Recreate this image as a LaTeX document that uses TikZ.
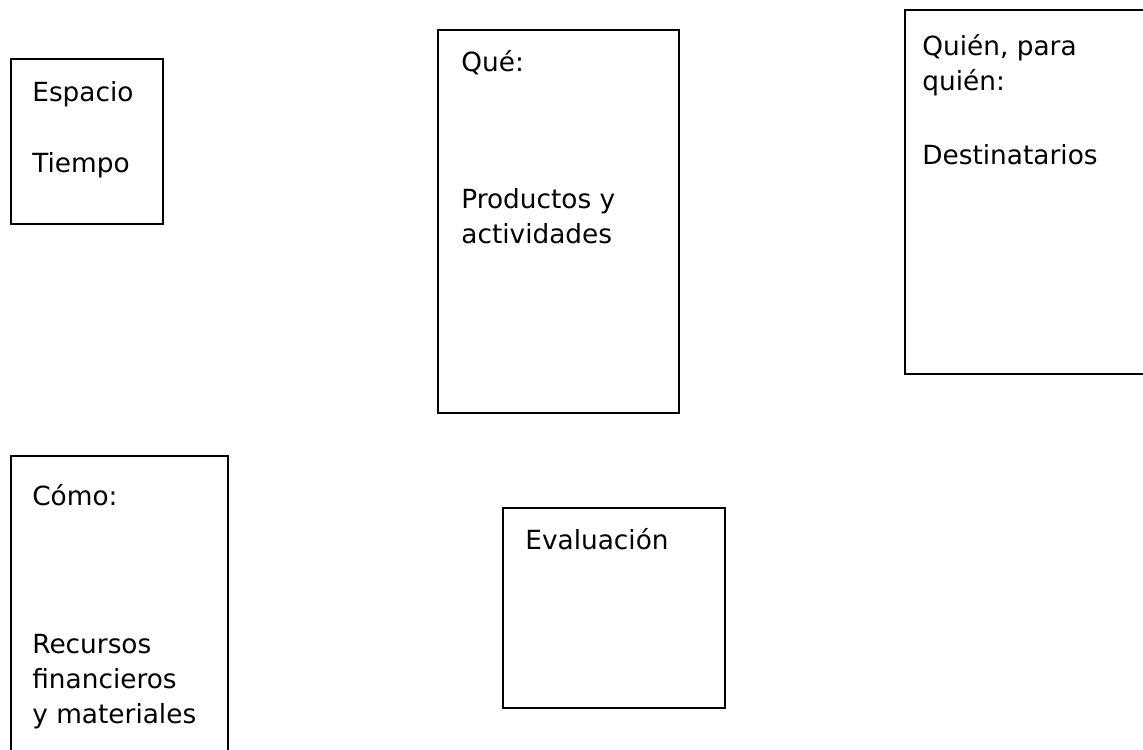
\documentclass[tikz,border=0pt]{standalone}
\usepackage{fontspec}
\setmainfont{DejaVu Sans}
\tikzset{
  caja/.style={line width=1.4pt,black},
  texto/.style={anchor=base west,inner sep=0pt,font=\fontsize{15}{19}\selectfont}
}
\begin{document}
\begin{tikzpicture}[x=0.02cm,y=-0.02cm]
\useasboundingbox (0,0) rectangle (1143,750);
\clip (0,0) rectangle (1143,750);
% cajas
\draw[caja] (11,59) rectangle (163,224);
\draw[caja] (438,30) rectangle (679,413);
\draw[caja] (905,10) rectangle (1170,374);
\draw[caja] (11,456) rectangle (228,780);
\draw[caja] (503,508) rectangle (725,708);

% textos
\node[texto] (espacio) at (32,102) {Espacio};
\node[texto] (tiempo) at (32,173) {Tiempo};

\node[texto] (que) at (461,72) {Qué:};
\node[texto] (productos) at (461,208) {Productos y};
\node[texto] (actividades) at (461,243) {actividades};

\node[texto] (quien) at (922,56) {Quién, para};
\node[texto] (paraquien) at (922,91) {quién:};
\node[texto] (destinatarios) at (922,165) {Destinatarios};

\node[texto] (como) at (32,505) {Cómo:};
\node[texto] (recursos) at (32,653) {Recursos};
\node[texto] (financieros) at (32,688) {financieros};
\node[texto] (materiales) at (32,723) {y materiales};

\node[texto] (evaluacion) at (525,549) {Evaluación};
\end{tikzpicture}
\end{document}
